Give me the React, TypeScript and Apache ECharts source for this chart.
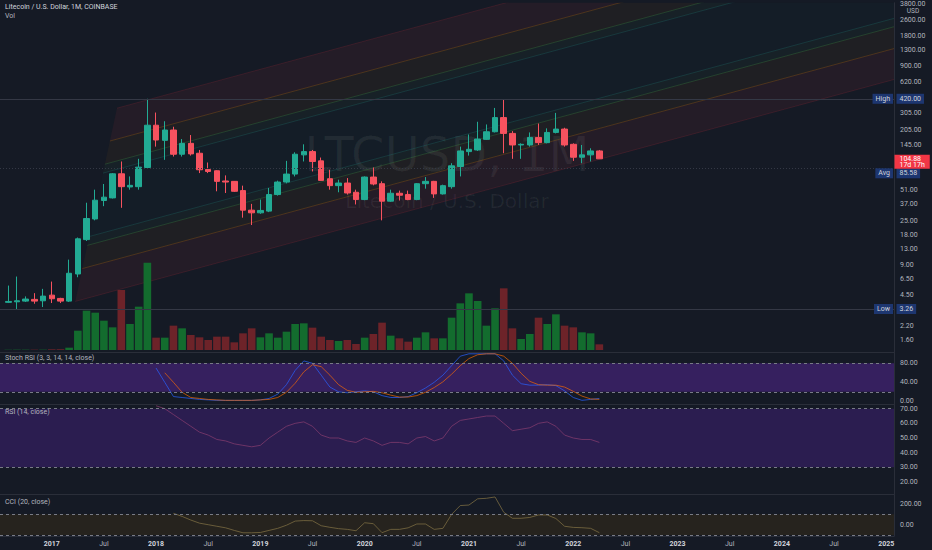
import React, { useEffect, useRef } from 'react';
import * as echarts from 'echarts';

// monthly LTCUSD candles, Aug 2016 .. Apr 2022 — [open, close, low, high]
const candles: number[][] = [
  [3.8, 3.88, 3.74, 5.6],
  [3.85, 3.94, 3.26, 6.9],
  [3.91, 4.1, 3.83, 4.36],
  [4.07, 3.91, 3.68, 4.7],
  [3.94, 4.39, 3.41, 5.19],
  [4.49, 4.13, 3.74, 6.14], // 2017
  [4.16, 3.91, 3.74, 4.22],
  [3.91, 7.44, 3.83, 10.2],
  [7.32, 16.5, 6.79, 17.0],
  [16.2, 26.4, 15.7, 38.0],
  [26.1, 40.3, 25.3, 51.4],
  [40.0, 43.2, 35.1, 58.6],
  [42.5, 74.2, 41.9, 75.5],
  [74.2, 55.1, 33.8, 98.6],
  [54.7, 56.8, 51.4, 69.8],
  [55.1, 86.5, 51.4, 104.8],
  [85.8, 228, 83.2, 420],
  [228, 162, 139, 305.6], // 2018
  [160.7, 204, 102.4, 250],
  [204, 116.6, 110.5, 220],
  [116.6, 150, 110.5, 165.7],
  [150, 117.5, 113, 181.7],
  [119.3, 81.4, 75.4, 128.7],
  [82, 78.3, 75.4, 96.3],
  [79.6, 62.3, 49.5, 80.5],
  [62.8, 61.3, 47.6, 71.5],
  [62.3, 49.5, 48.7, 62.8],
  [50.3, 32, 26.9, 56.4],
  [32, 30.1, 22.7, 37],
  [30.1, 31.8, 29.4, 40.9], // 2019
  [31.3, 45.9, 30.6, 53.5],
  [45.9, 61.3, 44.8, 63.3],
  [61.3, 73.7, 59.5, 100],
  [73.7, 116.6, 69.8, 122],
  [114.9, 123.9, 98.6, 146.6],
  [123.9, 98.6, 78.3, 128.7],
  [100, 63.7, 63.3, 108],
  [66.2, 56.4, 51.4, 81.4],
  [56.4, 59.9, 48.4, 64.7],
  [59.9, 47.6, 45.9, 67.2],
  [48.4, 40.9, 36.5, 51.4],
  [40.9, 68.8, 40.3, 69.8], // 2020
  [68.8, 58.6, 56.8, 85.8],
  [59, 39.4, 25.3, 62.3],
  [39.4, 47.3, 38.8, 51.4],
  [47.3, 45.2, 40, 50.3],
  [45.9, 40.9, 40.3, 50.3],
  [40.9, 59, 40.3, 59.9],
  [59, 62.3, 52.6, 68.8],
  [62.3, 46.6, 42.5, 63],
  [46.6, 56.4, 45.9, 57.7],
  [55.1, 89.2, 52.6, 94.8],
  [87.8, 125.8, 69.8, 139],
  [123.9, 130.7, 113, 184], // 2021
  [128.7, 165.7, 125.8, 247],
  [164.4, 196, 162, 232],
  [196, 272, 193, 340],
  [272, 188.7, 119.3, 413],
  [188.7, 144.4, 104.8, 199],
  [144.4, 146.6, 104.8, 150],
  [144.4, 172, 139, 193],
  [172, 152.4, 144.4, 237],
  [152.4, 193, 150, 212],
  [193, 208.5, 188.7, 303],
  [208.5, 144.4, 139, 215],
  [146.6, 108.8, 100, 150], // 2022
  [108.8, 114.9, 94.8, 144.4],
  [114.9, 125.8, 98.6, 133.8],
  [125.8, 104.88, 104.8, 128.7],
];

const volumes = [
  1, 1, 1, 1, 1,
  2, 2, 7, 58, 118, 112, 88, 68, 180, 78, 130, 262,
  37, 37, 73, 65, 45, 38, 30, 40, 40, 23, 50, 65,
  38, 50, 37, 55, 78, 80, 67, 40, 30, 27, 30, 18,
  37, 48, 82, 43, 35, 25, 37, 53, 35, 35, 97, 140,
  170, 147, 73, 125, 185, 65, 33, 48, 97, 78, 107, 73,
  68, 53, 50, 17,
];

// indicators start at these candle indices
const stochStart = 17;
const stochK = [
  70, 40, 10, 8, 6, 4, 3, 2, 2, 2, 2, 2,
  3, 6, 15, 35, 65, 85, 80, 55, 30, 20, 18, 20,
  22, 20, 12, 8, 8, 10, 18, 28, 40, 55, 75, 95,
  100, 100, 100, 100, 85, 55, 37, 34, 34, 35, 33, 22,
  8, 2, 4, 6,
];
const stochD = [
  null, 60, 40, 19, 8, 6, 4, 3, 2, 2, 2, 2,
  3, 4, 8, 19, 38, 62, 77, 73, 55, 35, 23, 19,
  20, 21, 18, 13, 9, 9, 12, 19, 29, 41, 57, 75,
  90, 98, 100, 100, 95, 80, 59, 42, 35, 34, 34, 30,
  21, 11, 5, 4,
];
const rsiStart = 17;
const rsiValues = [
  72, 70, 66, 62, 58, 54, 52, 49, 48, 46, 45, 44,
  45, 50, 54, 58, 60, 61, 58, 52, 50, 50, 48, 47,
  50, 48, 45, 47, 47, 46, 50, 51, 48, 50, 58, 62,
  63, 64, 65, 65, 60, 55, 56, 57, 60, 61, 58, 52,
  50, 49, 49, 47,
];
const cciStart = 19;
const cciValues = [
  110, 80, 45, 15, 0, -15, -30, -55, -78, -78,
  -75, -55, -35, -5, 35, 40, 38, -10, -25, -38, -45, -58,
  19, 10, -77, -45, -45, -30, 7, 7, -45, -35, 100, 185,
  190, 250, 255, 268, 120, 62, 62, 70, 94, 94, 60, -15,
  -26, -29, -35, -77,
];

const priceTicks = [3800, 2600, 1800, 1300, 900, 620, 305, 205, 145, 51, 37, 25, 18, 13, 9, 6.5, 4.5, 2.2, 1.6];
const stochTicks = [0, 40, 80];
const rsiTicks = [20, 30, 40, 50, 60, 70];
const cciTicks = [0, 200];
const timeTickIndex = [5, 11, 17, 23, 29, 35, 41, 47, 53, 59, 65, 71, 77, 83, 89, 95, 101];
const timeTickLabels = ['2017', 'Jul', '2018', 'Jul', '2019', 'Jul', '2020', 'Jul', '2021', 'Jul', '2022', 'Jul', '2023', 'Jul', '2024', 'Jul', '2025'];

// fib channel drawing: two points on the base line and the start of the far line (month index, price)
const channelBase = [[7.7, 3.88], [101.9, 656]];
const channelTop = [12.5, 338];
const channelLevels = [0, 0.17, 0.29, 0.336, 0.664, 0.71, 0.83, 1];

const markLevels = [420, 85.58, 3.26];
const markNames = ['High', 'Avg', 'Low'];
const lastPrice = 104.88;
const countdown = '17d 17h';

const X_MIN = -0.955;
const X_MAX = 101.9;
const PRICE_MIN = 1.206;
const PRICE_MAX = 3866;

const BG = '#151a25';
const TEXT = '#b2b5be';
const SEP = '#2a2e39';
const FONT = 'Roboto, sans-serif';
const UP = '#22ab94';
const DOWN = '#f7525f';

const RED_FILL = 'rgba(242,54,69,0.07)';
const ORANGE_FILL = 'rgba(255,152,0,0.045)';
const GREEN_FILL = 'rgba(76,175,80,0.05)';
const CENTER_FILL = 'rgba(8,153,129,0.025)';
const bandColors = [RED_FILL, ORANGE_FILL, GREEN_FILL, CENTER_FILL, GREEN_FILL, ORANGE_FILL, RED_FILL];
const levelColors = [
  'rgba(242,54,69,0.14)', 'rgba(255,152,0,0.2)', 'rgba(76,175,80,0.24)', 'rgba(38,166,154,0.2)',
  'rgba(38,166,154,0.2)', 'rgba(76,175,80,0.24)', 'rgba(255,152,0,0.2)', 'rgba(242,54,69,0.14)',
];

const lg = Math.log10;

const levelLine = (f: number) => {
  const b0x = channelBase[0][0];
  const b0y = lg(channelBase[0][1]);
  const slope = (lg(channelBase[1][1]) - b0y) / (channelBase[1][0] - b0x);
  const x0 = b0x + f * (channelTop[0] - b0x);
  const y0 = b0y + f * (lg(channelTop[1]) - b0y);
  return [[x0, y0], [X_MAX, y0 + slope * (X_MAX - x0)]];
};

const App: React.FC = () => {
  const chartRef = useRef<HTMLDivElement>(null);

  useEffect(() => {
    if (!chartRef.current) return;
    const chart = echarts.init(chartRef.current, undefined, { renderer: 'svg' });

    const paneTop = [0, 240, 352, 404.3, 494];
    const paneHeight = [352, 110, 52.3, 89.7, 42];

    const axisLabel = (ticks: number[], fmt: (v: number) => string) => ({
      customValues: ticks,
      formatter: fmt,
      color: TEXT,
      fontSize: 7,
      margin: 6,
    });

    const yBase = {
      type: 'value' as const,
      position: 'right' as const,
      splitLine: { show: false },
      axisTick: { show: false },
      axisLine: { show: true, onZero: false, lineStyle: { color: SEP } },
    };

    const dashed = (vals: number[]) => ({
      silent: true,
      symbol: 'none',
      label: { show: false },
      lineStyle: { color: '#787b86', type: [3, 3], width: 1 },
      data: vals.map(v => ({ yAxis: v })),
    });
    const band = (lo: number, hi: number, color: string) => ({
      silent: true,
      itemStyle: { color },
      data: [[{ xAxis: X_MIN, yAxis: lo }, { xAxis: X_MAX, yAxis: hi }]],
    });

    const option: any = {
      animation: false,
      backgroundColor: BG,
      textStyle: { fontFamily: FONT },
      grid: paneTop.map((t, k) => ({ left: 0, right: 38, top: t, height: paneHeight[k] })),
      xAxis: paneTop.map((_, k) => ({
        type: 'value',
        gridIndex: k,
        min: X_MIN,
        max: X_MAX,
        show: k !== 1,
        splitLine: { show: false },
        axisTick: { show: false },
        axisLine: { show: true, onZero: false, lineStyle: { color: SEP } },
        axisLabel:
          k === 4
            ? {
                customValues: timeTickIndex,
                formatter: (v: number) => {
                  const s = timeTickLabels[timeTickIndex.indexOf(Math.round(v))] ?? '';
                  return /^\d/.test(s) ? `{y|${s}}` : s;
                },
                color: TEXT,
                fontSize: 7,
                margin: 4,
                rich: { y: { fontSize: 7, fontWeight: 'bold', color: '#d1d4dc' } },
              }
            : { show: false },
      })),
      yAxis: [
        {
          ...yBase,
          gridIndex: 0,
          min: lg(PRICE_MIN),
          max: lg(PRICE_MAX),
          axisLabel: axisLabel(priceTicks.map(lg), v => Math.pow(10, v).toFixed(2)),
        },
        { type: 'value', gridIndex: 1, min: 0, max: 330, show: false },
        { ...yBase, gridIndex: 2, min: -6.3, max: 103.8, axisLabel: axisLabel(stochTicks, v => v.toFixed(2)) },
        { ...yBase, gridIndex: 3, min: 11.8, max: 73, axisLabel: axisLabel(rsiTicks, v => v.toFixed(2)) },
        { ...yBase, gridIndex: 4, min: -109, max: 296.6, axisLabel: axisLabel(cciTicks, v => v.toFixed(2)) },
      ],
      series: [
        {
          type: 'custom',
          xAxisIndex: 0,
          yAxisIndex: 0,
          clip: true,
          silent: true,
          z: 1,
          data: bandColors.map((_, i) => [X_MIN, i]),
          renderItem: (params: any, api: any) => {
            const i = params.dataIndex;
            const a = levelLine(channelLevels[i]);
            const b = levelLine(channelLevels[i + 1]);
            const pts = [a[0], a[1], b[1], b[0]].map(p => api.coord(p));
            return { type: 'polygon', shape: { points: pts }, style: { fill: bandColors[i] } };
          },
        },
        {
          type: 'custom',
          xAxisIndex: 0,
          yAxisIndex: 0,
          clip: true,
          silent: true,
          z: 1,
          data: channelLevels.map((_, i) => [X_MIN, i]),
          renderItem: (params: any, api: any) => {
            const i = params.dataIndex;
            const [p0, p1] = levelLine(channelLevels[i]).map(p => api.coord(p));
            return {
              type: 'line',
              shape: { x1: p0[0], y1: p0[1], x2: p1[0], y2: p1[1] },
              style: { stroke: levelColors[i], lineWidth: 1 },
            };
          },
        },
        {
          type: 'bar',
          xAxisIndex: 1,
          yAxisIndex: 1,
          barWidth: 7.6,
          silent: true,
          z: 2,
          data: volumes.map((v, i) => ({
            value: [i, v],
            itemStyle: { color: candles[i][1] >= candles[i][0] ? '#136c2e' : '#6d2329' },
          })),
        },
        {
          type: 'candlestick',
          xAxisIndex: 0,
          yAxisIndex: 0,
          barWidth: 6,
          z: 3,
          data: candles.map((c, i) => [i, lg(c[0]), lg(c[1]), lg(c[2]), lg(c[3])]),
          itemStyle: { color: UP, color0: DOWN, borderColor: UP, borderColor0: DOWN, borderWidth: 1 },
          markLine: {
            silent: true,
            symbol: 'none',
            label: { show: false },
            data: markLevels.map((v, k) => ({
              yAxis: lg(v),
              lineStyle: { color: '#343845', width: 1, type: k === 1 ? [1, 2] : 'solid' },
            })),
          },
        },
        {
          type: 'line',
          xAxisIndex: 2,
          yAxisIndex: 2,
          symbol: 'none',
          data: stochK.map((v, k) => [stochStart + k, v]),
          lineStyle: { color: '#2962ff', width: 1, opacity: 0.7 },
          markArea: band(20, 80, '#36205f'),
          markLine: dashed([80, 20]),
        },
        {
          type: 'line',
          xAxisIndex: 2,
          yAxisIndex: 2,
          symbol: 'none',
          data: stochD.map((v, k) => [stochStart + k, v]).filter(d => d[1] != null),
          lineStyle: { color: '#ff6d00', width: 1, opacity: 0.65 },
        },
        {
          type: 'line',
          xAxisIndex: 3,
          yAxisIndex: 3,
          symbol: 'none',
          data: rsiValues.map((v, k) => [rsiStart + k, v]),
          lineStyle: { color: '#8a3f70', width: 1, opacity: 0.7 },
          markArea: band(30, 70, '#2b1d50'),
          markLine: dashed([70, 30]),
        },
        {
          type: 'line',
          xAxisIndex: 4,
          yAxisIndex: 4,
          symbol: 'none',
          data: cciValues.map((v, k) => [cciStart + k, v]),
          lineStyle: { color: '#7a6c42', width: 1, opacity: 0.8 },
          markArea: band(-100, 100, '#26231e'),
          markLine: dashed([100, -100]),
        },
      ],
    };

    chart.setOption(option);

    const py = (v: number) => chart.convertToPixel({ yAxisIndex: 0 }, lg(v)) as number;
    const txt = (x: number, y: number, text: string, style: any = {}, z = 10) => ({
      type: 'text',
      x,
      y,
      z,
      silent: true,
      style: { text, fill: TEXT, fontSize: 7, fontFamily: FONT, verticalAlign: 'middle', ...style },
    });

    const priceBoxTop = py(lastPrice) - 4;
    const priceBoxBottom = priceBoxTop + 14;
    const tagStyle = { backgroundColor: '#1d3670', fill: '#d1d4dc', padding: [1, 3, 1, 3], lineHeight: 8 };
    const tags: any[] = [];
    markLevels.forEach((v, k) => {
      let y = py(v);
      if (y > priceBoxTop - 5 && y < priceBoxBottom + 5) y = priceBoxBottom + 4.5;
      tags.push(txt(893, y, markNames[k], { ...tagStyle, align: 'right' }, 100));
      tags.push(txt(896.5, y, v.toFixed(2), { ...tagStyle, align: 'left' }, 100));
    });

    chart.setOption({
      graphic: [
        txt(447, 154, 'LTCUSD, 1M', { fontSize: 48, fontFamily: 'DejaVu Sans', fill: 'rgba(255,255,255,0.06)', align: 'center' }, 0),
        txt(447, 201, 'Litecoin / U.S. Dollar', { fontSize: 20, fontFamily: 'DejaVu Sans', fill: 'rgba(255,255,255,0.06)', align: 'center' }, 0),
        txt(5, 7, 'Litecoin / U.S. Dollar, 1M, COINBASE', { fill: '#d1d4dc' }),
        txt(5, 16, 'Vol'),
        txt(5, 358, 'Stoch RSI (3, 3, 14, 14, close)'),
        txt(5, 411.7, 'RSI (14, close)'),
        txt(5, 502, 'CCI (20, close)'),
        txt(913, 11, 'USD', { align: 'center', fontSize: 6.5 }, 50),
        ...tags,
        txt(894.5, priceBoxTop, `${lastPrice.toFixed(2)}\n${countdown}`, {
          verticalAlign: 'top',
          fill: '#ffffff',
          backgroundColor: '#f23645',
          padding: [0.5, 5, 0.5, 5],
          lineHeight: 6.5,
        }, 100),
      ],
    });

    return () => {
      chart.dispose();
    };
  }, []);

  return (
    <div
      ref={chartRef}
      style={{ position: 'fixed', left: 0, top: 0, width: 932, height: 550, background: BG }}
    />
  );
};

export default App;
